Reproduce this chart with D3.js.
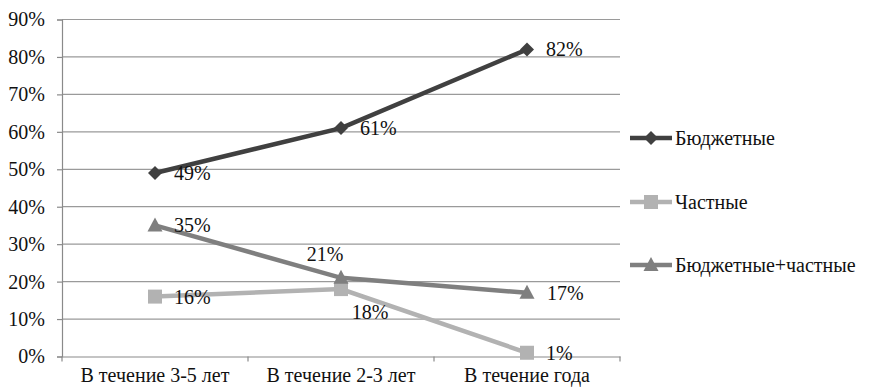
<!DOCTYPE html>
<html>
<head>
<meta charset="utf-8">
<script src="https://cdn.jsdelivr.net/npm/d3@7"></script>
</head>
<body style="margin:0">
<svg id="chart" width="878" height="388"></svg>
<script>
// Categories along the x axis
const categories = ["В течение 3-5 лет", "В течение 2-3 лет", "В течение года"];

// Series values, in percent
const seriesNames = ["Бюджетные", "Частные", "Бюджетные+частные"];
const budget = [49, 61, 82];
const privateOnly = [16, 18, 1];
const mixed = [35, 21, 17];

// Y axis ticks
const yTicks = [0, 10, 20, 30, 40, 50, 60, 70, 80, 90];

const seriesValues = [budget, privateOnly, mixed];
const seriesStyle = [
  { color: "#404040", marker: "diamond" },
  { color: "#b2b2b2", marker: "square" },
  { color: "#7f7f7f", marker: "triangle" }
];
// Label placement per series/point: dx, dy from the point (text anchor start unless noted)
const labelPlacement = [
  [{ dx: 19, dy: 7 }, { dx: 19, dy: 7 }, { dx: 19, dy: 7 }],
  [{ dx: 19, dy: 7 }, { dx: 29, dy: 30, anchor: "middle" }, { dx: 19, dy: 7 }],
  [{ dx: 19, dy: 7 }, { dx: -16, dy: -17, anchor: "middle" }, { dx: 20, dy: 7 }]
];

const FONT = '"Liberation Serif"';
const FS = 20;

// Apply the serif face to a text selection
function serif(sel) {
  return sel.style("font-family", FONT).attr("font-size", FS).attr("fill", "#111");
}

const svg = d3.select("#chart");
const plot = { left: 62, right: 620, top: 19.5, bottom: 356.5 };

const x = d3.scaleBand().domain(categories).range([plot.left, plot.right]);
const y = d3.scaleLinear().domain([0, 90]).range([plot.bottom, plot.top]);
const cx = c => x(c) + x.bandwidth() / 2;

// Horizontal gridlines
svg.append("g")
  .selectAll("line")
  .data(yTicks.filter(t => t > 0))
  .join("line")
  .attr("x1", plot.left).attr("x2", plot.right)
  .attr("y1", d => y(d)).attr("y2", d => y(d))
  .attr("stroke", "#9a9a9a").attr("stroke-width", 1.2);

// Y axis
const yAxis = svg.append("g")
  .attr("transform", `translate(${plot.left},0)`)
  .call(d3.axisLeft(y).tickValues(yTicks).tickFormat(d => d + "%").tickSize(5).tickPadding(12));
yAxis.attr("font-family", null).attr("font-size", null);
yAxis.select(".domain").attr("stroke", "#8a8a8a").attr("stroke-width", 1.2);
yAxis.selectAll(".tick line").attr("stroke", "#8a8a8a").attr("stroke-width", 1.2);
serif(yAxis.selectAll(".tick text"));

// X axis with ticks at category boundaries
const xAxis = svg.append("g")
  .attr("transform", `translate(0,${plot.bottom})`)
  .call(d3.axisBottom(x).tickSize(0).tickPadding(13));
xAxis.attr("font-family", null).attr("font-size", null);
xAxis.select(".domain").attr("stroke", "#8a8a8a").attr("stroke-width", 1.2);
serif(xAxis.selectAll(".tick text").attr("dy", "0.62em"));
const boundaries = categories.map(c => x(c)).concat([plot.right]);
xAxis.append("g").selectAll("line")
  .data(boundaries)
  .join("line")
  .attr("x1", d => d).attr("x2", d => d)
  .attr("y1", 0).attr("y2", 5)
  .attr("stroke", "#8a8a8a").attr("stroke-width", 1.2);

// Marker shapes
function markerPath(type) {
  if (type === "diamond") return "M0,-7L7,0L0,7L-7,0Z";
  if (type === "square") return "M-7,-7H7V7H-7Z";
  return "M0,-8L7.5,6H-7.5Z";
}

const line = d3.line().x((d, i) => cx(categories[i])).y(d => y(d));

seriesValues.forEach((vals, si) => {
  const st = seriesStyle[si];
  const g = svg.append("g");
  g.append("path")
    .attr("d", line(vals))
    .attr("fill", "none")
    .attr("stroke", st.color)
    .attr("stroke-width", 4.5);
  g.selectAll("path.mk")
    .data(vals)
    .join("path")
    .attr("class", "mk")
    .attr("transform", (d, i) => `translate(${cx(categories[i])},${y(d)})`)
    .attr("d", markerPath(st.marker))
    .attr("fill", st.color);
});

// Data labels
seriesValues.forEach((vals, si) => {
  serif(svg.append("g").selectAll("text")
    .data(vals)
    .join("text")
    .attr("x", (d, i) => cx(categories[i]) + labelPlacement[si][i].dx)
    .attr("y", (d, i) => y(d) + labelPlacement[si][i].dy)
    .attr("text-anchor", (d, i) => labelPlacement[si][i].anchor || "start")
    .text(d => d + "%"));
});

// Legend
const legendY = [138, 202, 265];
const legend = svg.append("g");
seriesNames.forEach((name, si) => {
  const st = seriesStyle[si];
  const ly = legendY[si];
  legend.append("line")
    .attr("x1", 630).attr("x2", 672)
    .attr("y1", ly).attr("y2", ly)
    .attr("stroke", st.color).attr("stroke-width", 4.5);
  legend.append("path")
    .attr("transform", `translate(651,${ly})`)
    .attr("d", markerPath(st.marker))
    .attr("fill", st.color);
  serif(legend.append("text")
    .attr("x", 675).attr("y", ly + 7)
    .text(name));
});
</script>
</body>
</html>
